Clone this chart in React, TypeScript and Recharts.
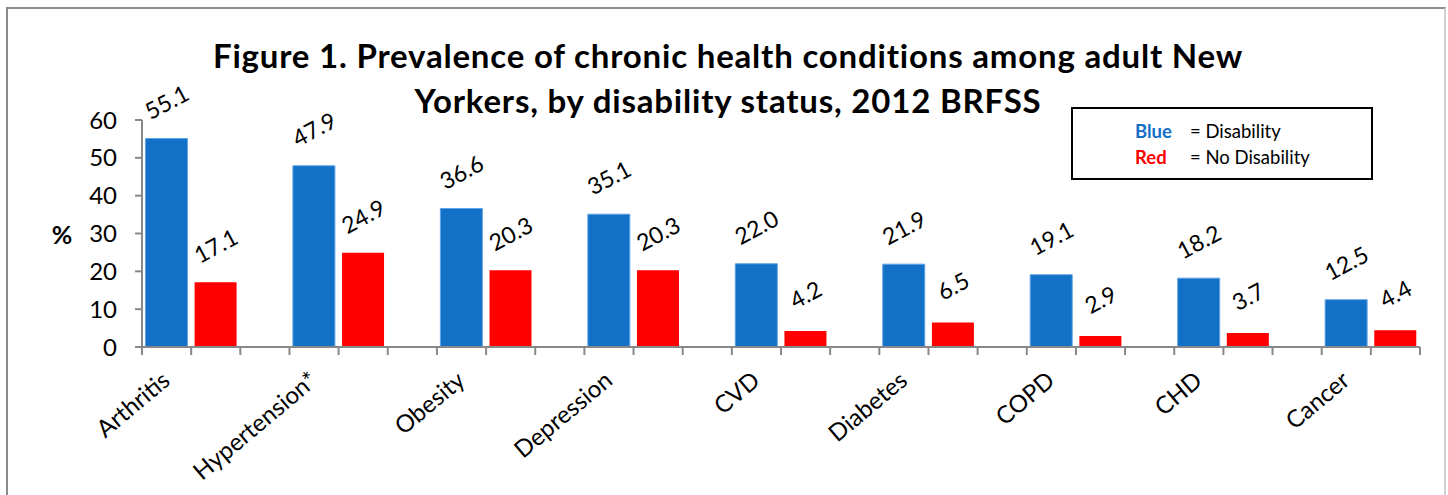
import React from "react";
import { Bar, BarChart, LabelList, XAxis, YAxis } from "recharts";

const categories = [
  "Arthritis",
  "Hypertension*",
  "Obesity",
  "Depression",
  "CVD",
  "Diabetes",
  "COPD",
  "CHD",
  "Cancer",
];
const disability = [55.1, 47.9, 36.6, 35.1, 22.0, 21.9, 19.1, 18.2, 12.5];
const noDisability = [17.1, 24.9, 20.3, 20.3, 4.2, 6.5, 2.9, 3.7, 4.4];
const yTicks = [0, 10, 20, 30, 40, 50, 60];

// Excel-style layout: each condition gets a blue slot, a red slot and an empty spacer slot
type Row = { slot: string; label: string; dis?: number; nodis?: number };
const rows: Row[] = [];
categories.forEach((cat, i) => {
  rows.push({ slot: `${i}-a`, label: cat, dis: disability[i] });
  rows.push({ slot: `${i}-b`, label: "", nodis: noDisability[i] });
  if (i < categories.length - 1) rows.push({ slot: `${i}-c`, label: "" });
});

const W = 1448;
const H = 495;
const MARGIN = { top: 120, right: 28, left: 82, bottom: 48 };
const Y_AXIS_W = 60;
const PLOT_W = W - MARGIN.left - MARGIN.right - Y_AXIS_W;
const BAND = PLOT_W / rows.length;

const FONT = "Lato, 'Open Sans', sans-serif";
const AXIS_GRAY = "#888888";
const BLUE = "#1270C6";
const RED = "#FF0000";

function XTick(props: any) {
  const { x, y, index } = props;
  const row = rows[index];
  const half = BAND / 2;
  return (
    <g>
      <line x1={x - half} x2={x - half} y1={y} y2={y + 8} stroke={AXIS_GRAY} strokeWidth={2} />
      {index === rows.length - 1 && (
        <line x1={x + half} x2={x + half} y1={y} y2={y + 8} stroke={AXIS_GRAY} strokeWidth={2} />
      )}
      {row && row.label && (
        <text
          x={x + 5}
          y={y + 36}
          textAnchor="end"
          fontSize={24}
          fontFamily={FONT}
          fill="#000"
          transform={`rotate(-40, ${x + 5}, ${y + 36})`}
        >
          {row.label}
        </text>
      )}
    </g>
  );
}

function ValueLabel(props: any) {
  const { x, y, width, value } = props;
  if (value == null) return null;
  const cx = x + width / 2;
  const cy = y - 37;
  return (
    <text
      x={cx}
      y={cy}
      textAnchor="middle"
      dominantBaseline="central"
      fontSize={23}
      fontFamily={FONT}
      fill="#000"
      transform={`rotate(-28, ${cx}, ${cy})`}
    >
      {Number(value).toFixed(1)}
    </text>
  );
}

export default function App() {
  return (
    <div style={{ position: "absolute", left: 0, top: 0, width: W, height: H, background: "#fff", overflow: "hidden" }}>
      <div
        style={{
          position: "absolute",
          left: 6,
          top: 7,
          width: W - 8,
          height: H,
          border: "2px solid #8c8c8c",
          borderRightColor: "#d0d0d0",
          boxSizing: "border-box",
        }}
      />
      <div
        style={{
          position: "absolute",
          left: 8,
          top: 33,
          width: W - 8,
          textAlign: "center",
          fontFamily: FONT,
          fontWeight: 700,
          fontSize: 33,
          letterSpacing: 0.8,
          lineHeight: "45px",
          color: "#000",
        }}
      >
        Figure 1. Prevalence of chronic health conditions among adult New
        <br />
        Yorkers, by disability status, 2012 BRFSS
      </div>
      <div style={{ position: "absolute", left: 0, top: 0 }}>
        <BarChart width={W} height={H} data={rows} margin={MARGIN} barCategoryGap="7%">
          <XAxis
            dataKey="slot"
            interval={0}
            height={100}
            tickLine={false}
            tickSize={0}
            tickMargin={0}
            axisLine={{ stroke: AXIS_GRAY, strokeWidth: 2 }}
            tick={<XTick />}
          />
          <YAxis
            width={Y_AXIS_W}
            domain={[0, 60]}
            ticks={yTicks}
            interval={0}
            tickSize={7}
            tickMargin={18}
            axisLine={{ stroke: AXIS_GRAY, strokeWidth: 2 }}
            tickLine={{ stroke: AXIS_GRAY, strokeWidth: 2 }}
            tick={{ fontSize: 24, fontFamily: FONT, fill: "#000" }}
            label={{
              content: (p: any) => (
                <text
                  x={p.viewBox.x - 20}
                  y={p.viewBox.y + p.viewBox.height / 2}
                  textAnchor="middle"
                  dominantBaseline="central"
                  fontSize={25}
                  fontWeight={700}
                  fontFamily={FONT}
                  fill="#000"
                >
                  %
                </text>
              ),
            }}
          />
          <Bar dataKey="dis" stackId="s" fill={BLUE} stroke="#5fa3e6" strokeWidth={1} isAnimationActive={false}>
            <LabelList dataKey="dis" content={<ValueLabel />} />
          </Bar>
          <Bar dataKey="nodis" stackId="s" fill={RED} isAnimationActive={false}>
            <LabelList dataKey="nodis" content={<ValueLabel />} />
          </Bar>
        </BarChart>
      </div>
      <div
        style={{
          position: "absolute",
          left: 1071,
          top: 107,
          width: 302,
          height: 73,
          border: "2px solid #000",
          boxSizing: "border-box",
          fontFamily: FONT,
          fontSize: 18.5,
          lineHeight: "26px",
          paddingTop: 9,
          color: "#000",
        }}
      >
        <div style={{ display: "flex" }}>
          <span style={{ marginLeft: 62, width: 55, fontWeight: 700, color: BLUE }}>Blue</span>
          <span>= Disability</span>
        </div>
        <div style={{ display: "flex" }}>
          <span style={{ marginLeft: 62, width: 55, fontWeight: 700, color: RED }}>Red</span>
          <span>= No Disability</span>
        </div>
      </div>
    </div>
  );
}
